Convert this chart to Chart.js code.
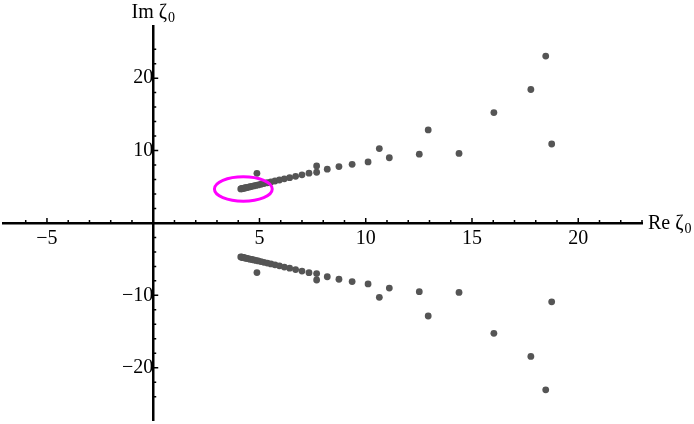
<!DOCTYPE html>
<html>
<head>
<meta charset="utf-8">
<script src="https://cdn.jsdelivr.net/npm/chart.js@4.4.1/dist/chart.umd.min.js"></script>
<style>
  html, body { margin: 0; padding: 0; background: #fff; }
</style>
</head>
<body>
<canvas id="plot" width="694" height="424"></canvas>
<script>
// real parts of the roots (same for both halves)
const reVals = [4.12, 4.15, 4.18, 4.22, 4.26, 4.31, 4.36, 4.42, 4.49, 4.56, 4.64, 4.73, 4.83, 4.94,
  5.07, 5.21, 5.37, 5.54, 5.73, 5.94, 6.17, 6.42, 6.70, 7.00, 7.33,
  7.69, 8.19, 8.74, 9.36, 10.11, 11.11, 12.52, 14.39, 18.75,
  4.88, 7.69, 10.64, 12.94, 16.03, 17.77, 18.47];
// imaginary parts, upper half
const imUpper = [4.70, 4.72, 4.74, 4.77, 4.80, 4.83, 4.86, 4.90, 4.95, 5.00, 5.05, 5.11, 5.18, 5.25,
  5.34, 5.44, 5.55, 5.66, 5.79, 5.93, 6.09, 6.25, 6.44, 6.65, 6.87,
  7.00, 7.43, 7.78, 8.10, 8.43, 9.00, 9.50, 9.60, 10.90,
  6.85, 7.88, 10.27, 12.85, 15.24, 18.43, 23.05];
// imaginary parts, lower half
const imLower = [-4.70, -4.72, -4.74, -4.77, -4.80, -4.83, -4.86, -4.90, -4.95, -5.00, -5.05, -5.11, -5.18, -5.25,
  -5.34, -5.44, -5.55, -5.66, -5.79, -5.93, -6.09, -6.25, -6.44, -6.65, -6.87,
  -7.00, -7.43, -7.78, -8.10, -8.43, -9.00, -9.50, -9.60, -10.90,
  -6.85, -7.88, -10.27, -12.85, -15.24, -18.43, -23.05];

const xTickLabels = [-5, 5, 10, 15, 20];
const yTickLabels = [-20, -10, 10, 20];

// magenta ring around the accumulation point
const ringCenter = [4.24, 4.68];
const ringRadius = [1.36, 1.69];

const FONT = 'Liberation Serif, DejaVu Serif, serif';

const fmt = v => (v < 0 ? '\u2212' + Math.abs(v) : String(v));

const upperPts = reVals.map((r, i) => ({ x: r, y: imUpper[i] }));
const lowerPts = reVals.map((r, i) => ({ x: r, y: imLower[i] }));

// inward tick marks, mathematica style
const tickMarks = {
  id: 'tickMarks',
  afterDraw(chart) {
    const { ctx, scales: { x, y } } = chart;
    const x0 = x.getPixelForValue(0);
    const y0 = y.getPixelForValue(0);
    ctx.save();
    ctx.strokeStyle = '#000';
    ctx.lineWidth = 1.5;
    ctx.beginPath();
    x.ticks.forEach(t => {
      if (!Number.isInteger(t.value) || t.value === 0) return;
      const px = x.getPixelForValue(t.value);
      const len = t.value % 5 === 0 ? 5 : 3;
      ctx.moveTo(px, y0);
      ctx.lineTo(px, y0 - len);
    });
    y.ticks.forEach(t => {
      if (!Number.isInteger(t.value) || t.value === 0) return;
      const py = y.getPixelForValue(t.value);
      const len = t.value % 10 === 0 ? 5 : 3;
      ctx.moveTo(x0, py);
      ctx.lineTo(x0 + len, py);
    });
    ctx.stroke();

    // axis labels
    ctx.fillStyle = '#000';
    ctx.textBaseline = 'alphabetic';
    const drawLabel = (main, left, base) => {
      ctx.font = '20px ' + FONT;
      ctx.fillText(main, left, base);
      const w = ctx.measureText(main).width;
      ctx.font = '14px ' + FONT;
      ctx.fillText('0', left + w + 1, base + 4);
    };
    const area = chart.chartArea;
    drawLabel('Re \u03b6', area.right + 6, y0 + 6);
    ctx.font = '20px ' + FONT;
    const imW = ctx.measureText('Im \u03b6').width + 8;
    drawLabel('Im \u03b6', x0 - imW / 2, area.top - 8);
    ctx.restore();
  }
};

const ring = {
  id: 'ring',
  afterDatasetsDraw(chart) {
    const { ctx, scales: { x, y } } = chart;
    const cx = x.getPixelForValue(ringCenter[0]);
    const cy = y.getPixelForValue(ringCenter[1]);
    const rx = x.getPixelForValue(ringCenter[0] + ringRadius[0]) - cx;
    const ry = cy - y.getPixelForValue(ringCenter[1] + ringRadius[1]);
    ctx.save();
    ctx.strokeStyle = '#ff00ff';
    ctx.lineWidth = 3;
    ctx.beginPath();
    ctx.ellipse(cx, cy, rx, ry, 0, 0, Math.PI * 2);
    ctx.stroke();
    ctx.restore();
  }
};

const noSize = horizontal => scale => {
  if (horizontal) scale.height = 0; else scale.width = 0;
  scale.paddingLeft = scale.paddingRight = scale.paddingTop = scale.paddingBottom = 0;
};

new Chart(document.getElementById('plot'), {
  type: 'scatter',
  data: {
    datasets: [
      { data: upperPts, pointRadius: 3.4, pointHoverRadius: 3.4, backgroundColor: '#555555', borderWidth: 0 },
      { data: lowerPts, pointRadius: 3.4, pointHoverRadius: 3.4, backgroundColor: '#555555', borderWidth: 0 }
    ]
  },
  options: {
    responsive: false,
    animation: false,
    devicePixelRatio: 1,
    layout: { padding: { left: 0, right: 52, top: 26, bottom: 0 } },
    plugins: { legend: { display: false }, tooltip: { enabled: false } },
    scales: {
      x: {
        type: 'linear',
        min: -7.05,
        max: 23,
        position: { y: 0 },
        afterFit: noSize(true),
        grid: { display: false, drawTicks: false },
        border: { display: true, color: '#000', width: 2.5 },
        ticks: {
          stepSize: 1,
          autoSkip: false,
          maxRotation: 0,
          padding: 4,
          color: '#000',
          font: { family: FONT, size: 20 },
          callback: v => (xTickLabels.includes(v) ? fmt(v) : '')
        }
      },
      y: {
        type: 'linear',
        min: -27.3,
        max: 27.2,
        position: { x: 0 },
        afterFit: noSize(false),
        grid: { display: false, drawTicks: false },
        border: { display: true, color: '#000', width: 2.5 },
        ticks: {
          stepSize: 2,
          autoSkip: false,
          padding: 4,
          color: '#000',
          font: { family: FONT, size: 20 },
          callback: v => (yTickLabels.includes(v) ? fmt(v) : '')
        }
      }
    }
  },
  plugins: [tickMarks, ring]
});
</script>
</body>
</html>
